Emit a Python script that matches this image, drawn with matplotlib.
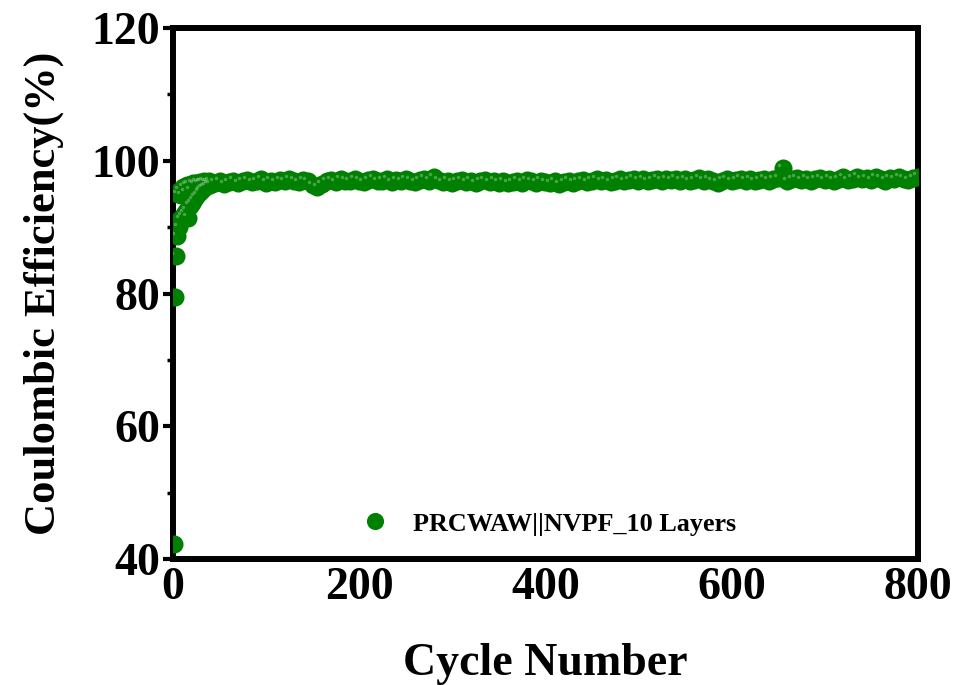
import numpy as np
import matplotlib.pyplot as plt
import matplotlib.transforms as mtransforms

plt.rcParams['font.family'] = ['Liberation Serif', 'DejaVu Serif']
plt.rcParams['font.weight'] = 'bold'

# Pierwsze cykle (co cykl)
early_cycles = list(range(1, 40))
early_ce = [42.2, 79.5, 85.6, 88.6, 95.0, 90.0, 95.5, 91.2, 94.8, 91.6,
            96.0, 92.0, 95.2, 92.5, 96.3, 91.4, 96.4, 93.2, 95.5, 93.6,
            96.6, 94.0, 96.5, 94.4, 96.7, 94.8, 96.6, 95.2, 96.8, 95.5,
            96.7, 95.8, 96.9, 96.0, 96.8, 96.2, 96.7, 96.4, 96.9]

# Dalsze cykle (co 5 cykli)
late_cycles = list(range(40, 801, 5))
late_ce = [96.4, 96.7, 96.9, 96.5, 96.8, 97.0, 96.6, 96.9, 97.1, 96.8,
           96.9, 97.2, 96.7, 97.0, 96.8, 97.1, 96.9, 97.2, 97.0, 96.8,
           97.1, 96.9, 96.3, 96.0, 96.5, 96.9, 97.1, 96.8, 97.2, 97.0,
           96.9, 97.2, 97.0, 96.8, 97.1, 97.3, 96.9, 97.0, 97.2, 96.8,
           97.1, 96.9, 97.2, 97.0, 96.8, 97.1, 97.3, 97.0, 97.5, 97.1,
           96.8, 97.0, 96.7, 96.9, 97.1, 96.8, 97.0, 96.6, 96.9, 97.1,
           96.8, 97.0, 96.7, 96.9, 96.6, 96.8, 97.0, 96.7, 97.1, 96.9,
           96.7, 97.0, 96.8, 96.6, 96.9, 96.5, 96.8, 97.0, 96.7, 96.9,
           97.1, 96.8, 97.0, 97.2, 96.9, 97.1, 96.8, 97.0, 97.2, 96.9,
           97.1, 97.3, 97.0, 97.2, 96.9, 97.1, 97.3, 97.0, 97.2, 97.1,
           97.3, 97.0, 97.2, 96.9, 97.1, 97.4, 97.0, 97.2, 96.9, 96.7,
           97.0, 97.2, 96.9, 97.1, 97.3, 97.0, 97.2, 96.9, 97.1, 97.3,
           97.0, 97.2, 97.4, 98.9, 96.9, 97.2, 97.4, 97.1, 97.3, 97.0,
           97.2, 97.4, 97.1, 97.3, 97.0, 97.2, 97.5, 97.1, 97.3, 97.6,
           97.2, 97.4, 97.1, 97.5, 97.3, 97.0, 97.4, 97.2, 97.5, 97.3,
           97.1, 97.4, 97.6]

cycles = np.array(early_cycles + late_cycles)
ce = np.array(early_ce + late_ce)

label = 'PRCWAW||NVPF_10 Layers'
green = '#008000'

fig = plt.figure(figsize=(9.61, 6.85), dpi=100)
ax = fig.add_axes([0.180, 0.184, 0.775, 0.775])

ax.plot(cycles, ce, 'o', color=green, markersize=13, markeredgewidth=0,
        label=label, zorder=3)
# odblask na kulkach
shift = mtransforms.ScaledTranslation(-2.5 / 72, 2.5 / 72, fig.dpi_scale_trans)
ax.plot(cycles, ce, 'o', color='#9fd09f', markersize=2.5, markeredgewidth=0,
        alpha=0.45, transform=ax.transData + shift, zorder=4)

ax.set_xlim(0, 800)
ax.set_ylim(40, 120)
ax.set_xticks([0, 200, 400, 600, 800])
ax.set_yticks([40, 60, 80, 100, 120])
ax.set_yticks([50, 70, 90, 110], minor=True)

for s in ax.spines.values():
    s.set_linewidth(4.3)
ax.tick_params(axis='y', which='major', direction='out', length=7, width=3,
               labelsize=33, pad=2)
ax.tick_params(axis='y', which='minor', direction='out', length=4, width=2.5)
ax.tick_params(axis='x', which='major', direction='in', length=0,
               labelsize=33, pad=6)

ax.set_xlabel('Cycle Number', fontsize=33, fontweight='bold', labelpad=24)
ax.set_ylabel('Coulombic Efficiency(%)', fontsize=32, fontweight='bold',
              labelpad=20)

leg = ax.legend(loc='center left', bbox_to_anchor=(0.205, 0.066), frameon=False,
                prop={'size': 18.8, 'weight': 'bold'}, handletextpad=0.45,
                markerscale=0.95)

fig.savefig('out.png', dpi=100)
